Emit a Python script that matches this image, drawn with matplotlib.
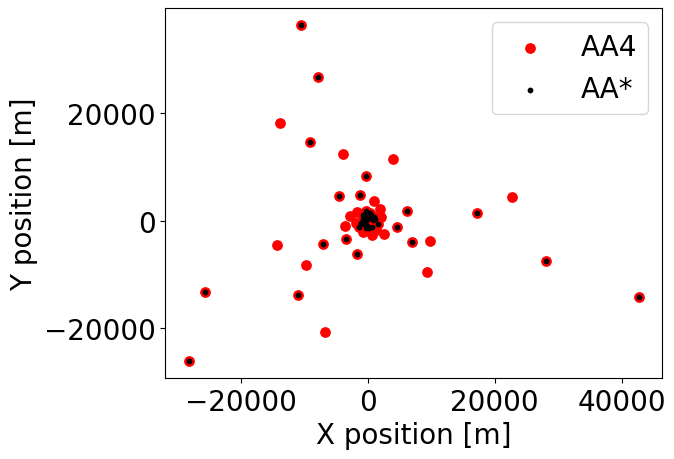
import matplotlib
matplotlib.use('Agg')
import matplotlib.pyplot as plt

# AA* antenna positions (subset, also in AA4)
aastar_x = [-10450, -7770, -9085, -190, -4490, -1260, 6140, 17220, 4570, -3415,
            -7060, 6960, -1700, 28035, -25570, -10920, 42630, -28190,
            -315, -1370, 1670, -200, 525, 893, -52, -683, 300, -900, 1100, -500,
            -1100, 700, 200, -300, 1000, -700, 400]
aastar_y = [36330, 26660, 14660, 8250, 4560, 4740, 1710, 1364, -1235, -3340,
            -4300, -3990, -6230, -7564, -13268, -13826, -14198, -26100,
            1770, -1200, -680, 0, 1054, 124, -930, 310, 500, -600, 300, 800,
            -400, -1100, -1400, -1300, 700, 1100, 1400]

# AA4-only positions
aa4_only_x = [-13808, -3938, 4040, 22680, 920, -14228, -9740, 9840, 9320, -6668,
              2620, -3600, -2785, 1965, 2020, 655, -1685, -690, 1300, -1900]
aa4_only_y = [18166, 12462, 11440, 4340, 3630, -4526, -8270, -3720, -9635, -20770,
              -2536, -960, 780, 2173, 600, -2694, 1610, -2160, -1700, -500]

aa4_x = aastar_x + aa4_only_x
aa4_y = aastar_y + aa4_only_y

plt.rcParams['font.size'] = 20

fig = plt.figure(figsize=(6.74, 4.6), dpi=100)
ax = fig.add_axes([0.245, 0.176, 0.737, 0.804])

ax.scatter(aa4_x, aa4_y, c='red', s=45, label='AA4')
ax.scatter(aastar_x, aastar_y, c='black', s=10, label='AA*')

ax.set_xlim(-31880, 46300)
ax.set_ylim(-29260, 39500)
ax.set_xticks([-20000, 0, 20000, 40000])
ax.set_yticks([-20000, 0, 20000])
ax.set_xlabel('X position [m]')
ax.set_ylabel('Y position [m]')
ax.legend(loc='upper right')

fig.savefig('out.png', dpi=100)
